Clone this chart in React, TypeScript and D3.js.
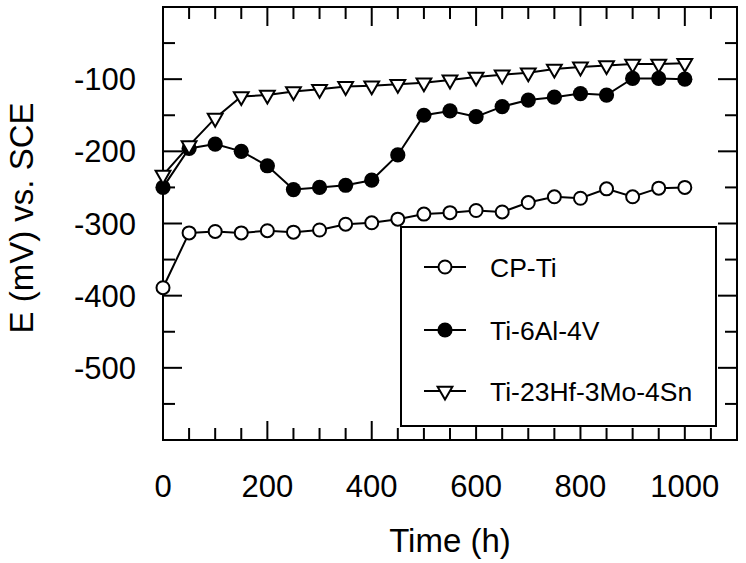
import { useEffect, useRef } from 'react'
import * as d3 from 'd3'

const times = [0, 50, 100, 150, 200, 250, 300, 350, 400, 450, 500, 550, 600, 650, 700, 750, 800, 850, 900, 950, 1000]
const cpTi = [-389, -313, -311, -313, -310, -312, -309, -301, -299, -294, -287, -285, -282, -284, -271, -263, -265, -252, -263, -251, -250]
const ti6Al4V = [-250, -196, -190, -200, -220, -253, -250, -247, -240, -205, -150, -144, -152, -138, -129, -125, -120, -122, -99, -99, -100]
const tiHfMoSn = [-233, -192, -154, -124, -122, -117, -114, -110, -109, -107, -105, -101, -97, -94, -91, -86, -83, -81, -79, -79, -78]

const seriesNames = ['CP-Ti', 'Ti-6Al-4V', 'Ti-23Hf-3Mo-4Sn']
const xTickLabels = [0, 200, 400, 600, 800, 1000]
const yTickLabels = [-100, -200, -300, -400, -500]

const FONT = '"Liberation Sans", Arial, Helvetica, sans-serif'

export default function App() {
  const svgRef = useRef<SVGSVGElement>(null)

  useEffect(() => {
    if (!svgRef.current) return
    const width = 746
    const height = 563

    const x = d3.scaleLinear().domain([0, 1100]).range([163, 737])
    const y = d3.scaleLinear().domain([0, -600]).range([7, 440])

    const svg = d3.select(svgRef.current)
    svg.selectAll('*').remove()
    svg.attr('width', width).attr('height', height)

    svg.append('rect').attr('width', width).attr('height', height).attr('fill', '#fff')

    const [x0, x1] = x.range()
    const [y0, y1] = y.range()

    // ticks on all four sides, pointing inward
    const ticks = svg.append('g').attr('stroke', '#000').attr('stroke-width', 2)
    const major = 19
    const minor = 12
    d3.range(0, 1101, 50).forEach(v => {
      const len = v % 200 === 0 ? major : minor
      ticks.append('line').attr('x1', x(v)).attr('x2', x(v)).attr('y1', y1).attr('y2', y1 - len)
      ticks.append('line').attr('x1', x(v)).attr('x2', x(v)).attr('y1', y0).attr('y2', y0 + len)
    })
    d3.range(0, -601, -50).forEach(v => {
      const len = v % 100 === 0 ? major : minor
      ticks.append('line').attr('y1', y(v)).attr('y2', y(v)).attr('x1', x0).attr('x2', x0 + len)
      ticks.append('line').attr('y1', y(v)).attr('y2', y(v)).attr('x1', x1).attr('x2', x1 - len)
    })

    svg.append('rect')
      .attr('x', x0).attr('y', y0)
      .attr('width', x1 - x0).attr('height', y1 - y0)
      .attr('fill', 'none').attr('stroke', '#000').attr('stroke-width', 2)

    svg.append('g')
      .selectAll('text')
      .data(xTickLabels)
      .join('text')
      .attr('x', d => x(d))
      .attr('y', 497)
      .attr('text-anchor', 'middle')
      .attr('font-family', FONT)
      .attr('font-size', 31)
      .text(d => d)

    svg.append('g')
      .selectAll('text')
      .data(yTickLabels)
      .join('text')
      .attr('x', 136)
      .attr('y', d => y(d))
      .attr('dy', '0.36em')
      .attr('text-anchor', 'end')
      .attr('font-family', FONT)
      .attr('font-size', 31)
      .text(d => d)

    svg.append('text')
      .attr('x', 450).attr('y', 552)
      .attr('text-anchor', 'middle')
      .attr('font-family', FONT)
      .attr('font-size', 33)
      .text('Time (h)')

    svg.append('text')
      .attr('transform', 'translate(33,218) rotate(-90)')
      .attr('text-anchor', 'middle')
      .attr('font-family', FONT)
      .attr('font-size', 33)
      .text('E (mV) vs. SCE')

    const line = d3.line<number>().x((_, i) => x(times[i])).y(d => y(d))
    const tri = d3.symbol().type(d3.symbolTriangle).size(95)

    const drawMarker = (g: d3.Selection<SVGGElement, unknown, null, undefined>, kind: number, cx: number, cy: number) => {
      if (kind === 0) {
        g.append('circle').attr('cx', cx).attr('cy', cy).attr('r', 6.5)
          .attr('fill', '#fff').attr('stroke', '#000').attr('stroke-width', 2)
      } else if (kind === 1) {
        g.append('circle').attr('cx', cx).attr('cy', cy).attr('r', 7.6).attr('fill', '#000')
      } else {
        g.append('path').attr('d', tri()!)
          .attr('transform', `translate(${cx},${cy}) rotate(180)`)
          .attr('fill', '#fff').attr('stroke', '#000').attr('stroke-width', 2)
      }
    }

    const allSeries = [cpTi, ti6Al4V, tiHfMoSn]
    allSeries.forEach((vals, k) => {
      const g = svg.append('g')
      g.append('path').attr('d', line(vals)!).attr('fill', 'none').attr('stroke', '#000').attr('stroke-width', 2)
      vals.forEach((v, i) => drawMarker(g, k, x(times[i]), y(v)))
    })

    // legend
    const lg = svg.append('g')
    lg.append('rect').attr('x', 401).attr('y', 227).attr('width', 315).attr('height', 199)
      .attr('fill', '#fff').attr('stroke', '#000').attr('stroke-width', 2)
    const rowY = [267, 330, 391]
    seriesNames.forEach((name, k) => {
      lg.append('line').attr('x1', 424).attr('x2', 466).attr('y1', rowY[k]).attr('y2', rowY[k])
        .attr('stroke', '#000').attr('stroke-width', 2)
      drawMarker(lg, k, 445, rowY[k])
      lg.append('text').attr('x', 490).attr('y', rowY[k]).attr('dy', '0.36em')
        .attr('font-family', FONT).attr('font-size', 26.5).text(name)
    })
  }, [])

  return (
    <div style={{ position: 'absolute', left: 0, top: 0 }}>
      <svg ref={svgRef} style={{ display: 'block' }} />
    </div>
  )
}
